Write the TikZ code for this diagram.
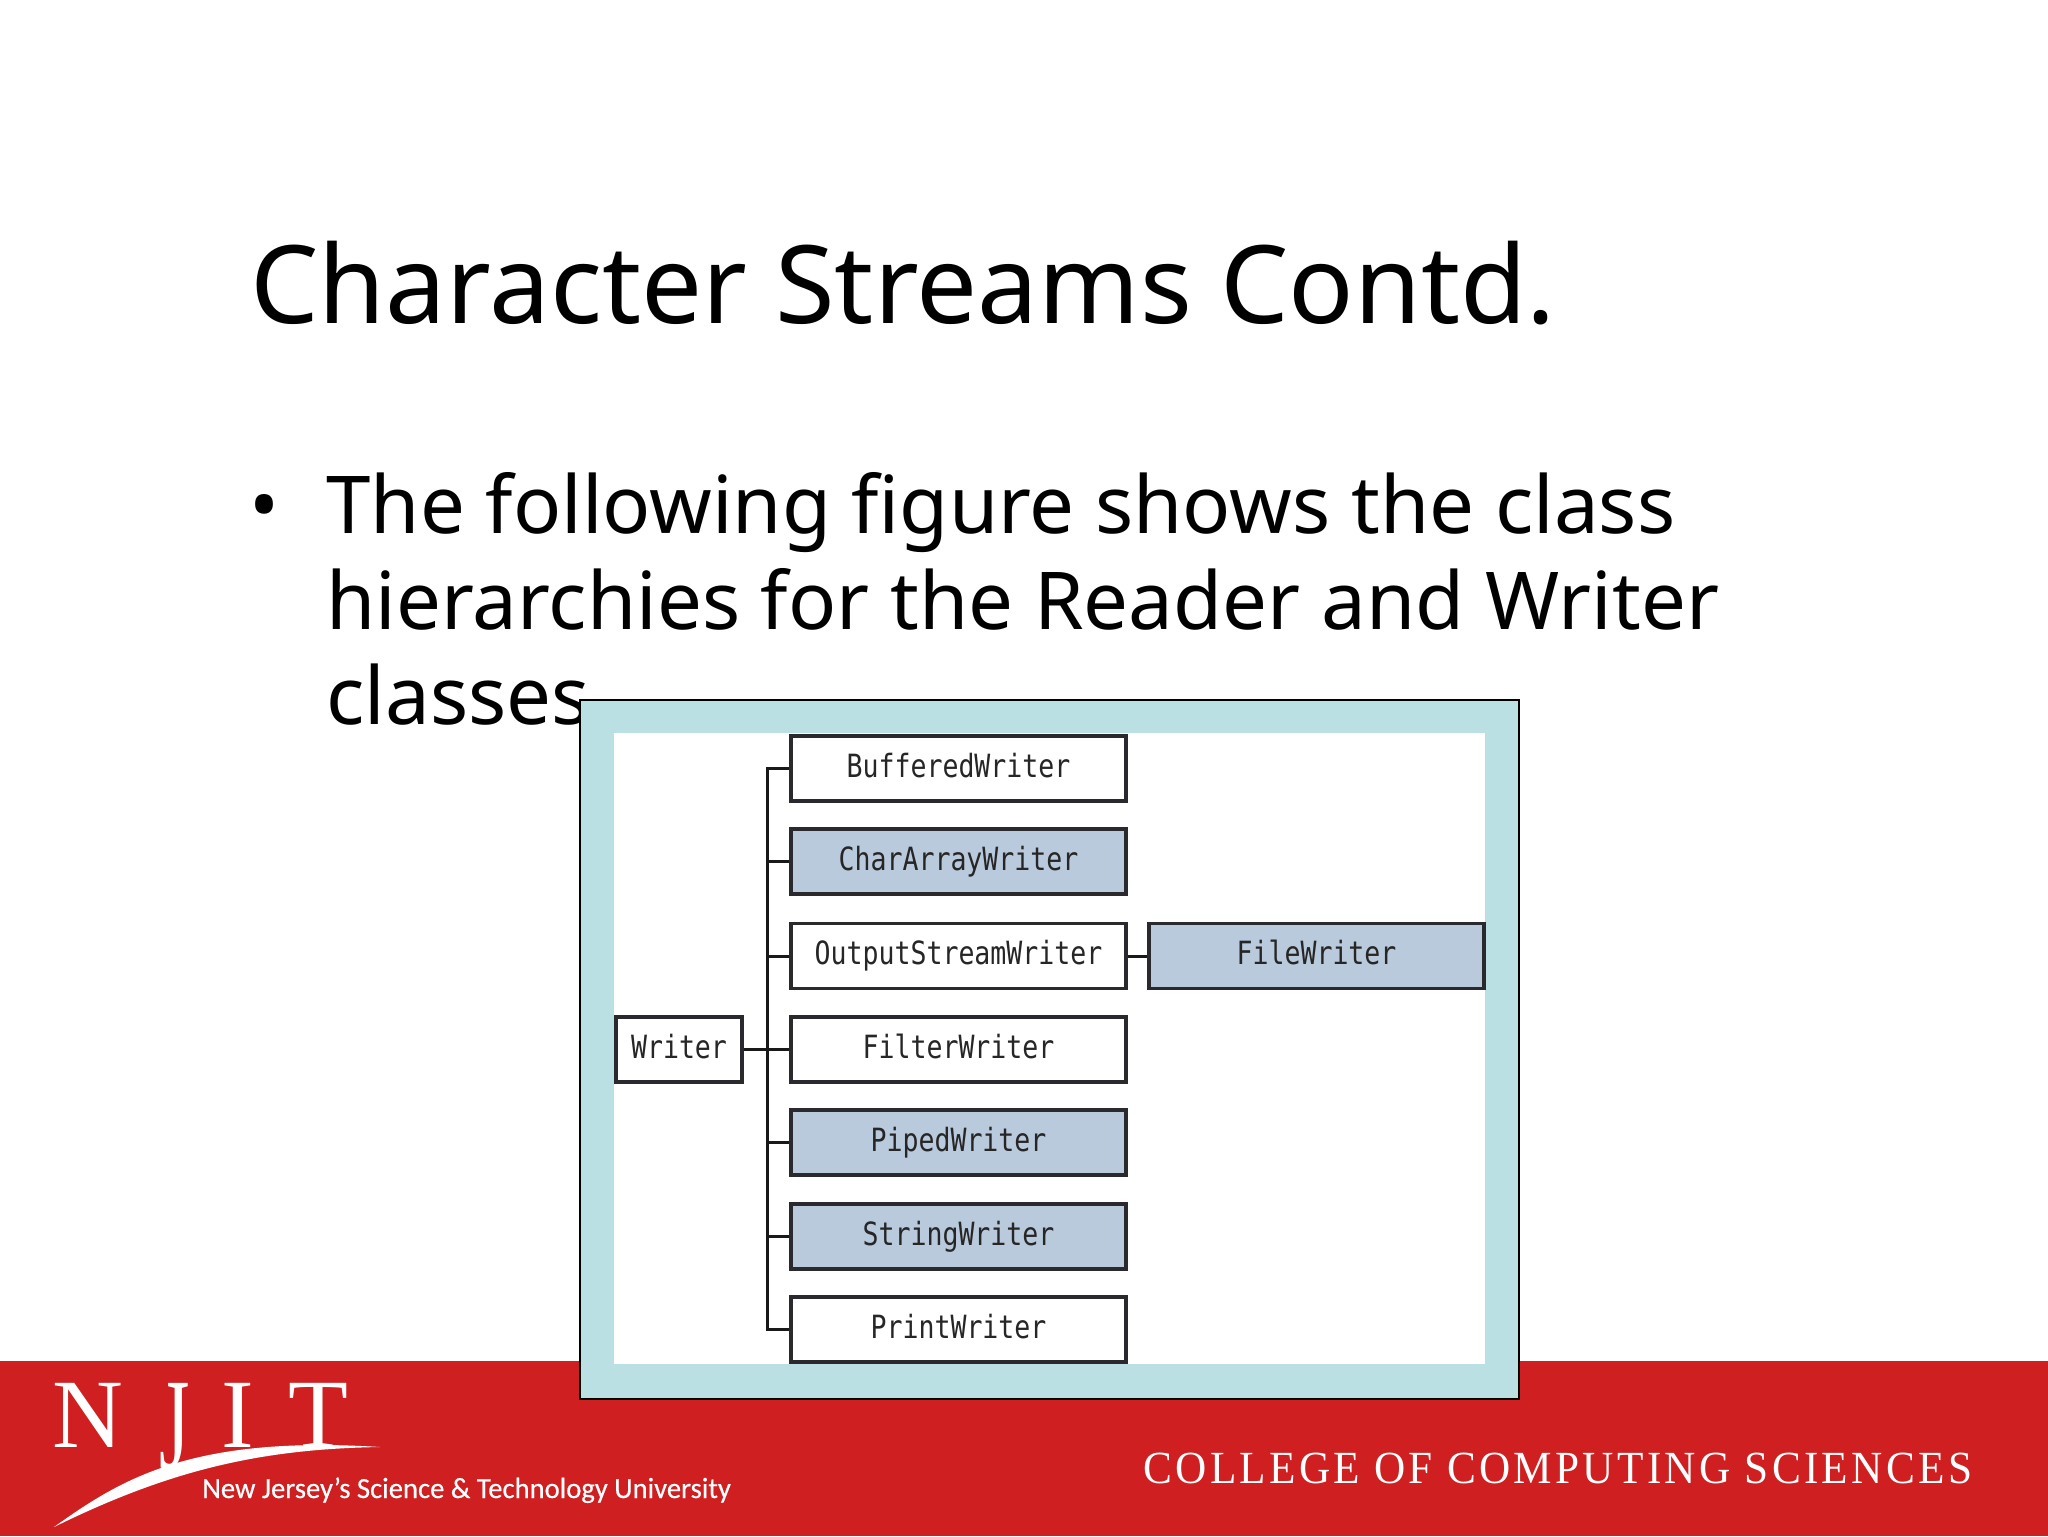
\documentclass[tikz,border=0pt]{standalone}
\usepackage{fontspec}
\setmainfont{Noto Sans}
\newfontfamily\boxfont[FakeStretch=0.83]{DejaVu Sans Mono}
\newfontfamily\logoserif{Liberation Serif}
\newfontfamily\jfont[FakeStretch=0.6]{Liberation Serif}
\newfontfamily\collegefont[FakeStretch=0.94,LetterSpace=7.2]{Liberation Serif}
\newfontfamily\tagfont[FakeStretch=0.98,FakeBold=0.4]{Carlito}
\definecolor{band}{HTML}{CF1F20}
\definecolor{framefill}{HTML}{BBE0E4}
\definecolor{boxblue}{HTML}{B8CADC}
\definecolor{boxline}{HTML}{2A2A2E}
\tikzset{
  x=0.5pt,y=-0.5pt,
  classbox/.style={draw=boxline,line width=1.8pt,fill=white,inner sep=0pt,text=black!85,
    font=\boxfont\fontsize{16}{18}\selectfont,minimum height=32.5pt,text height=11.5pt,text depth=3pt},
  wide/.style={classbox,minimum width=167.5pt},
  shaded/.style={fill=boxblue},
  link/.style={draw=black!90,line width=1.5pt},
  titletext/.style={anchor=base west,inner sep=0pt,text=black,font=\fontsize{54.2}{60}\selectfont},
  bodytext/.style={anchor=base west,inner sep=0pt,text=black,font=\fontsize{39.9}{48}\selectfont},
  logoletter/.style={anchor=base,inner sep=0pt,text=white,font=\logoserif\fontsize{49}{50}\selectfont},
}
\begin{document}
\begin{tikzpicture}
\useasboundingbox (0,0) rectangle (2048,1536);
\fill[white] (0,0) rectangle (2048,1536);
\node[titletext] (title) at (250,323) {Character Streams Contd.};
\node[bodytext] (bullet) at (249,533) {•};
\node[bodytext] (l1) at (326,533) {The following figure shows the class};
\node[bodytext] (l2) at (326,629) {hierarchies for the Reader and Writer};
\node[bodytext] (l3) at (326,724) {classes};
\fill[band] (0,1361) rectangle (2048,1536);
\draw[black,line width=1pt,fill=framefill] (580,700) rectangle (1519,1399);
\fill[white] (614,733) rectangle (1485,1364);
\coordinate (spine) at (767,1049.5);
\node[wide] (bw) at (958.5,768.5) {BufferedWriter};
\node[wide,shaded] (caw) at (958.5,861.5) {CharArrayWriter};
\node[wide] (osw) at (958.5,956) {OutputStreamWriter};
\node[wide] (flw) at (958.5,1049.5) {FilterWriter};
\node[wide,shaded] (pw) at (958.5,1142.5) {PipedWriter};
\node[wide,shaded] (sw) at (958.5,1236.5) {StringWriter};
\node[wide] (prw) at (958.5,1329.5) {PrintWriter};
\node[classbox,minimum width=63pt] (wr) at (679,1049.5) {Writer};
\node[wide,shaded] (fw) at (1316.5,956) {FileWriter};
\draw[link] (wr.east) -- (flw.west);
\draw[link] (bw.west) -| (spine) |- (prw.west);
\draw[link] (caw.west) -- (caw.west -| spine);
\draw[link] (osw.west) -- (osw.west -| spine);
\draw[link] (pw.west) -- (pw.west -| spine);
\draw[link] (sw.west) -- (sw.west -| spine);
\draw[link] (osw.east) -- (fw.west);
\node[logoletter] (n) at (88,1447) {N};
\node[anchor=base,inner sep=0pt,text=white,font=\jfont\fontsize{65}{66}\selectfont] (j) at (175,1468) {J};
\node[logoletter] (i) at (238,1447) {I};
\node[logoletter] (t) at (318,1447) {T};
\fill[white] (54,1527) .. controls (120,1480) and (190,1435) .. (380,1447)
  .. controls (260,1449) and (170,1470) .. (54,1527) -- cycle;
\node[anchor=base west,inner sep=0pt,text=white,font=\tagfont\fontsize{14.6}{16}\selectfont] (tag) at (202,1498) {New Jersey’s Science \& Technology University};
\node[anchor=base west,inner sep=0pt,text=white,font=\collegefont\fontsize{23}{25}\selectfont] (college) at (1143,1483) {COLLEGE OF COMPUTING SCIENCES};
\end{tikzpicture}
\end{document}
